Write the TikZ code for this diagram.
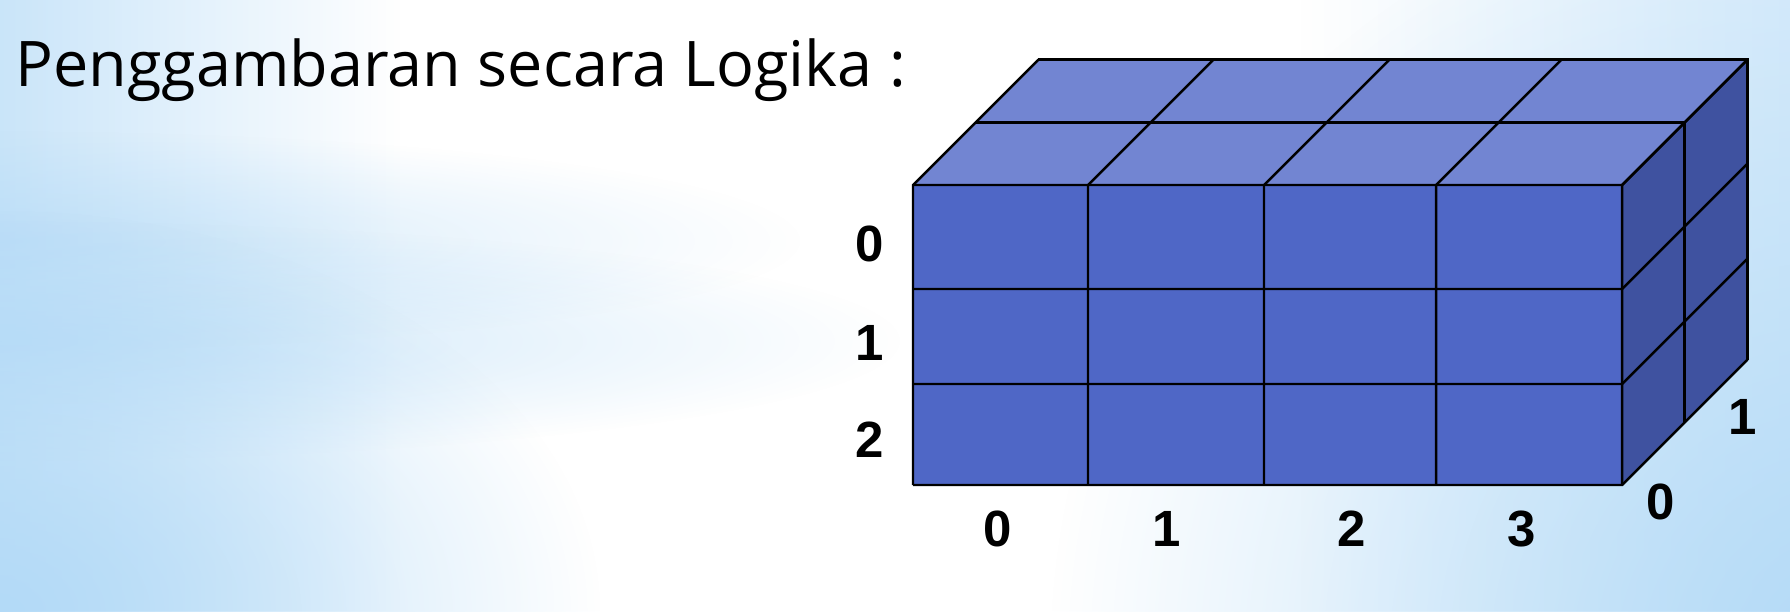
\documentclass[tikz,border=0pt]{standalone}
\usepackage{fontspec}
\setmainfont{Open Sans}
\newfontfamily\digitfont{Liberation Sans}
\usetikzlibrary{fadings}
\definecolor{cubefront}{HTML}{4F67C6}
\definecolor{cubetop}{HTML}{7285D2}
\definecolor{cubeside}{HTML}{3F52A0}
\definecolor{skyblue}{HTML}{B3DAF7}
\tikzfading[name=fade right, left color=transparent!0, right color=transparent!100]
\tikzfading[name=fade left, left color=transparent!100, right color=transparent!0]
\tikzfading[name=fade glow, inner color=transparent!0, outer color=transparent!100]

\begin{document}
\begin{tikzpicture}[
  grid/.style={black, line width=0.7pt, line join=miter},
  idx/.style={font=\digitfont\bfseries\fontsize{14.5}{17}\selectfont, inner sep=0pt},
  title/.style={font=\fontsize{17.9}{21}\selectfont, anchor=base west, inner sep=0pt},
]
\useasboundingbox (0,0) rectangle (17.9,6.11);
% background
\begin{scope}
  \clip (0,0) rectangle (17.9,6.11);
  \fill[white] (0,0) rectangle (17.9,6.11);
  \fill[skyblue, opacity=0.7, path fading=fade right] (0,0) rectangle (4,6.11);
  \fill[skyblue, opacity=0.6, path fading=fade glow] (0,3.7) ellipse (8 and 1.1);
  \fill[skyblue, opacity=0.7, path fading=fade glow] (0,2.7) ellipse (9 and 1.2);
  \fill[skyblue, path fading=fade glow] (0,0) ellipse (6 and 4);
  \fill[skyblue, opacity=0.5, path fading=fade left] (13,0) rectangle (17.9,6.11);
  \fill[skyblue, path fading=fade glow] (18.5,-0.5) circle (8);
\end{scope}

\node[title] (heading) at (0.15,5.25) {Penggambaran secara Logika :};

% faces of the block
\fill[cubetop] (9.13,4.26) -- (16.22,4.26) -- ++(1.254,1.254) -- (10.384,5.514) -- cycle;
\fill[cubeside] (16.22,4.26) -- (16.22,1.26) -- ++(1.254,1.254) -- (17.474,5.514) -- cycle;
\fill[cubefront] (9.13,1.26) rectangle (16.22,4.26);

\foreach \x in {9.13,10.88,12.64,14.36,16.22}
  \draw[grid] (\x,1.26) -- (\x,4.26) -- ++(1.254,1.254);
\foreach \y in {1.26,2.27,3.22,4.26}
  \draw[grid] (9.13,\y) -- (16.22,\y) -- ++(1.254,1.254);
\foreach \k in {0.627,1.254}
  \draw[grid] (9.13+\k,4.26+\k) -- (16.22+\k,4.26+\k) -- (16.22+\k,1.26+\k);

% indices
\foreach \r/\y in {0/3.67,1/2.685,2/1.715}
  \node[idx] (row\r) at (8.70,\y) {\r};
\foreach \c/\x in {0/9.98,1/11.67,2/13.52,3/15.22}
  \node[idx] (col\c) at (\x,0.82) {\c};
\node[idx] (dep0) at (16.61,1.09) {0};
\node[idx] (dep1) at (17.43,1.94) {1};
\end{tikzpicture}
\end{document}
